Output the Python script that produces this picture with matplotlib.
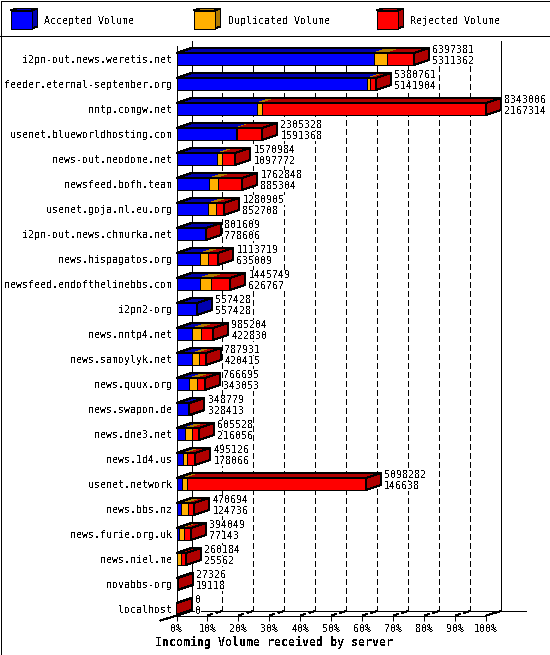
import matplotlib
matplotlib.use("Agg")
import matplotlib.pyplot as plt
from matplotlib.patches import Polygon, Rectangle

plt.rcParams['font.family'] = ['DejaVu Sans Mono']
plt.rcParams['text.antialiased'] = False
plt.rcParams['lines.scale_dashes'] = False
plt.rcParams['lines.antialiased'] = False
plt.rcParams['patch.antialiased'] = False

servers = ["i2pn-out.news.weretis.net", "feeder.eternal-september.org", "nntp.comgw.net",
           "usenet.blueworldhosting.com", "news-out.neodome.net", "newsfeed.bofh.team",
           "usenet.goja.nl.eu.org", "i2pn-out.news.chmurka.net", "news.hispagatos.org",
           "newsfeed.endofthelinebbs.com", "i2pn2-org", "news.nntp4.net",
           "news.samoylyk.net", "news.quux.org", "news.swapon.de", "news.dne3.net",
           "news.1d4.us", "usenet.network", "news.bbs.nz", "news.furie.org.uk",
           "news.niel.me", "novabbs-org", "localhost"]
offered = [6397381, 5380761, 8343006, 2305328, 1570984, 1762848, 1280905, 801609,
           1113719, 1445749, 557428, 985204, 787931, 766695, 348779, 605528,
           495126, 5098282, 470694, 394049, 260184, 27326, 0]
accepted = [5311362, 5141904, 2167314, 1591368, 1097772, 885304, 852708, 778606,
            635009, 626767, 557428, 422830, 420415, 343053, 328413, 216056,
            178066, 146638, 124736, 77143, 25562, 19118, 0]
# duplicates have no printed number
duplicated = [366000, 75000, 145000, 45000, 125000, 233000, 206000, 0,
              206000, 314000, 0, 242000, 180000, 215000, 0, 189000,
              117000, 135000, 197000, 126000, 91000, 0, 0]
pct_ticks = [0, 10, 20, 30, 40, 50, 60, 70, 80, 90, 100]
legend_names = ["Accepted Volume", "Duplicated Volume", "Rejected Volume"]

faces = ["#0000ff", "#ffb000", "#ff0000"]
darks = ["#0000b0", "#b07b00", "#b00000"]

W, H = 550, 655
PX_X = 309.7 / 100      # pixels per percent
PX_Y = 25.0             # pixels per row
DX = 15 / PX_X          # depth of the fake 3d, in data units
DY = 5 / PX_Y
HALF = 6 / PX_Y
top_val = max(offered)

fig = plt.figure(figsize=(W / 100, H / 100), dpi=100, facecolor="white")

# background layer in pixel coords for frame and legend
bg = fig.add_axes([0, 0, 1, 1])
bg.set_xlim(0, W)
bg.set_ylim(H, 0)
bg.axis('off')
bg.add_patch(Rectangle((0.5, 0.5), W - 1, H - 1, fill=False, ec="black", lw=0.72))
bg.plot([0, W], [35.5, 35.5], color="black", lw=0.72)

for x0, name, face, dark in zip([10.5, 193.5, 376.5], legend_names, faces, darks):
    bg.add_patch(Polygon([(x0, 10.5), (x0 + 6, 8.5), (x0 + 27, 8.5), (x0 + 21, 10.5)],
                         fc=dark, ec="black", lw=0.72))
    bg.add_patch(Polygon([(x0 + 21, 10.5), (x0 + 27, 8.5), (x0 + 27, 26.5), (x0 + 21, 28.5)],
                         fc=dark, ec="black", lw=0.72))
    bg.add_patch(Rectangle((x0, 10.5), 21, 18, fc=face, ec="black", lw=0.72))
    bg.text(x0 + 34, 20.5, name, fontsize=7.2, va="center", ha="left")

bg.text(274, 642, "Incoming Volume received by server", fontsize=8.4, fontweight="bold",
        ha="center", va="center")

ax = fig.add_axes([176.5 / W, (H - 615.5) / H, 309.7 / W, 570 / H])
ax.patch.set_alpha(0)
ax.set_xlim(0, 100)
ax.set_ylim((615.5 - 59) / PX_Y, (45.5 - 59) / PX_Y)
for side in ['top', 'right']:
    ax.spines[side].set_visible(False)
for side in ['left', 'bottom']:
    ax.spines[side].set_linewidth(0.72)
ax.set_xticks(pct_ticks)
ax.set_xticklabels([f"{p}%" for p in pct_ticks], fontsize=7.2)
ax.set_yticks(range(len(servers)))
ax.set_yticklabels(servers, fontsize=7.2)
ax.tick_params(axis='x', length=3.6, width=0.72, pad=2.5)
ax.tick_params(axis='y', length=0, pad=3.2)

floor_back = (615.5 - 59) / PX_Y - 4.5 / PX_Y
grid_top = (65.5 - 59) / PX_Y
wall_top = (40.5 - 59) / PX_Y
front_floor = (615.5 - 59) / PX_Y
line_kw = dict(color="black", lw=0.72, clip_on=False, zorder=1)

# back wall, floor outline
ax.plot([DX, DX], [wall_top, floor_back], **line_kw)
ax.plot([100 + DX, 100 + DX], [wall_top, floor_back], **line_kw)
ax.plot([DX, 349 / PX_X], [floor_back, floor_back], **line_kw)
ax.plot([-16 / PX_X, DX], [front_floor + 5 / PX_Y, floor_back], **line_kw)
ax.plot([100, 100 + DX], [front_floor, floor_back], **line_kw)

# dashed grid on back wall and floor
for p in pct_ticks[1:-1]:
    ax.plot([p + DX, p + DX], [grid_top, floor_back], color="black", lw=0.72,
            ls=(0, (3.6, 2.16)), clip_on=False, zorder=1)
    ax.plot([p, p + DX], [front_floor, floor_back], color="black", lw=0.72,
            ls=(0, (3.6, 2.16)), clip_on=False, zorder=1)


def draw_segment(row, start, end, idx):
    top, bot = row - HALF, row + HALF
    # top faces have no black seam between segments
    ax.add_patch(Polygon([(start, top), (start + DX, top - DY), (end + DX, top - DY), (end, top)],
                         fc=darks[idx], ec="none", clip_on=False, zorder=3))
    ax.add_patch(Polygon([(start, top), (end, top), (end, bot), (start, bot)],
                         fc=faces[idx], ec="black", lw=0.72, clip_on=False, zorder=4))


num_box = dict(fc="white", ec="none", pad=0)

for row, (off, acc, dup) in enumerate(zip(offered, accepted, duplicated)):
    parts = [acc, dup, off - acc - dup]
    pos = 0.0
    last = 2
    for idx, part in enumerate(parts):
        if part <= 0:
            continue
        end = pos + part / top_val * 100
        draw_segment(row, pos, end, idx)
        pos = end
        last = idx
    if off == 0:
        draw_segment(row, 0, 0, 2)
    top, bot = row - HALF, row + HALF
    ax.add_patch(Polygon([(0, top), (DX, top - DY), (pos + DX, top - DY), (pos, top)],
                         fill=False, ec="black", lw=0.72, clip_on=False, zorder=4))
    ax.add_patch(Polygon([(pos, top), (pos + DX, top - DY), (pos + DX, bot - DY), (pos, bot)],
                         fc=darks[last], ec="black", lw=0.72, clip_on=False, zorder=4))
    ax.text(pos + DX + 3.5 / PX_X, row - 9 / PX_Y, str(off), fontsize=7.2, va="center",
            ha="left", clip_on=False, zorder=5, bbox=num_box)
    ax.text(pos + DX + 3.5 / PX_X, row + 2 / PX_Y, str(acc), fontsize=7.2, va="center",
            ha="left", clip_on=False, zorder=5, bbox=num_box)

fig.savefig("out.png", dpi=100)
